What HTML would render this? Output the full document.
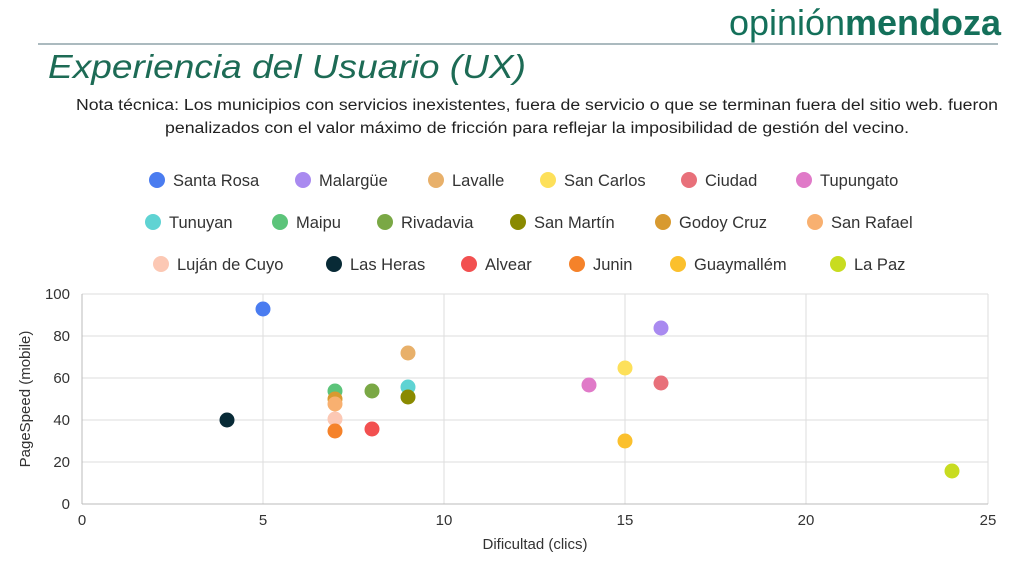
<!DOCTYPE html>
<html><head><meta charset="utf-8"><style>
body{margin:0;background:#fff;width:1024px;height:559px;overflow:hidden;font-family:"Liberation Sans",sans-serif}
</style></head><body>
<svg width="1024" height="559" xmlns="http://www.w3.org/2000/svg" font-family="Liberation Sans, sans-serif">
<text x="1001" y="35" text-anchor="end" font-size="36" fill="#14705a" textLength="272" lengthAdjust="spacingAndGlyphs">opinión<tspan font-weight="bold">mendoza</tspan></text>
<line x1="38" y1="44" x2="998" y2="44" stroke="#8fa3aa" stroke-width="1.5"/>
<text x="48" y="78" font-size="33" font-style="italic" fill="#1d6b55" textLength="478" lengthAdjust="spacingAndGlyphs">Experiencia del Usuario (UX)</text>
<text x="537" y="110" text-anchor="middle" font-size="15.5" fill="#222" textLength="922" lengthAdjust="spacingAndGlyphs">Nota técnica: Los municipios con servicios inexistentes, fuera de servicio o que se terminan fuera del sitio web. fueron</text>
<text x="537" y="133" text-anchor="middle" font-size="15.5" fill="#222" textLength="744" lengthAdjust="spacingAndGlyphs">penalizados con el valor máximo de fricción para reflejar la imposibilidad de gestión del vecino.</text>
<g font-size="16.5" fill="#333">
<circle cx="157" cy="180" r="8" fill="#4a7cf0"/><text x="173" y="186">Santa Rosa</text>
<circle cx="303" cy="180" r="8" fill="#a98af0"/><text x="319" y="186">Malargüe</text>
<circle cx="436" cy="180" r="8" fill="#e8b06a"/><text x="452" y="186">Lavalle</text>
<circle cx="548" cy="180" r="8" fill="#fde05a"/><text x="564" y="186">San Carlos</text>
<circle cx="689" cy="180" r="8" fill="#e8707a"/><text x="705" y="186">Ciudad</text>
<circle cx="804" cy="180" r="8" fill="#e07ac8"/><text x="820" y="186">Tupungato</text>
<circle cx="153" cy="222" r="8" fill="#5fd3d3"/><text x="169" y="228">Tunuyan</text>
<circle cx="280" cy="222" r="8" fill="#5cc47a"/><text x="296" y="228">Maipu</text>
<circle cx="385" cy="222" r="8" fill="#7aa845"/><text x="401" y="228">Rivadavia</text>
<circle cx="518" cy="222" r="8" fill="#8a8a00"/><text x="534" y="228">San Martín</text>
<circle cx="663" cy="222" r="8" fill="#d89a30"/><text x="679" y="228">Godoy Cruz</text>
<circle cx="815" cy="222" r="8" fill="#f8b070"/><text x="831" y="228">San Rafael</text>
<circle cx="161" cy="264" r="8" fill="#fcc8b4"/><text x="177" y="270">Luján de Cuyo</text>
<circle cx="334" cy="264" r="8" fill="#082a36"/><text x="350" y="270">Las Heras</text>
<circle cx="469" cy="264" r="8" fill="#f25050"/><text x="485" y="270">Alvear</text>
<circle cx="577" cy="264" r="8" fill="#f5822a"/><text x="593" y="270">Junin</text>
<circle cx="678" cy="264" r="8" fill="#fbc02d"/><text x="694" y="270">Guaymallém</text>
<circle cx="838" cy="264" r="8" fill="#c8dc20"/><text x="854" y="270">La Paz</text>
</g>
<g stroke="#ddd" stroke-width="1">
<line x1="82" y1="294" x2="988" y2="294"/><line x1="82" y1="336" x2="988" y2="336"/><line x1="82" y1="378" x2="988" y2="378"/><line x1="82" y1="420" x2="988" y2="420"/><line x1="82" y1="462" x2="988" y2="462"/>
<line x1="263" y1="294" x2="263" y2="504"/><line x1="444" y1="294" x2="444" y2="504"/><line x1="625" y1="294" x2="625" y2="504"/><line x1="806" y1="294" x2="806" y2="504"/><line x1="988" y1="294" x2="988" y2="504"/>
</g>
<line x1="82" y1="294" x2="82" y2="504" stroke="#bbb"/><line x1="82" y1="504" x2="988" y2="504" stroke="#bbb"/>
<g font-size="15" fill="#333" text-anchor="end">
<text x="70" y="299">100</text><text x="70" y="341">80</text><text x="70" y="383">60</text><text x="70" y="425">40</text><text x="70" y="467">20</text><text x="70" y="509">0</text>
</g>
<g font-size="15" fill="#333" text-anchor="middle">
<text x="82" y="525">0</text><text x="263" y="525">5</text><text x="444" y="525">10</text><text x="625" y="525">15</text><text x="806" y="525">20</text><text x="988" y="525">25</text>
<text x="535" y="549">Dificultad (clics)</text>
<text transform="translate(30,399) rotate(-90)">PageSpeed (mobile)</text>
</g>
<g>
<circle cx="263" cy="309" r="7.5" fill="#4a7cf0"/>
<circle cx="661" cy="328" r="7.5" fill="#a98af0"/>
<circle cx="408" cy="353" r="7.5" fill="#e8b06a"/>
<circle cx="625" cy="368" r="7.5" fill="#fde05a"/>
<circle cx="661" cy="383" r="7.5" fill="#e8707a"/>
<circle cx="589" cy="385" r="7.5" fill="#e07ac8"/>
<circle cx="408" cy="387" r="7.5" fill="#5fd3d3"/>
<circle cx="335" cy="391" r="7.5" fill="#5cc47a"/>
<circle cx="372" cy="391" r="7.5" fill="#7aa845"/>
<circle cx="408" cy="397" r="7.5" fill="#8a8a00"/>
<circle cx="335" cy="399" r="7.5" fill="#d89a30"/>
<circle cx="335" cy="404" r="7.5" fill="#f8b070"/>
<circle cx="335" cy="419" r="7.5" fill="#fcc8b4"/>
<circle cx="227" cy="420" r="7.5" fill="#082a36"/>
<circle cx="372" cy="429" r="7.5" fill="#f25050"/>
<circle cx="335" cy="431" r="7.5" fill="#f5822a"/>
<circle cx="625" cy="441" r="7.5" fill="#fbc02d"/>
<circle cx="952" cy="471" r="7.5" fill="#c8dc20"/>
</g>
</svg>
</body></html>
